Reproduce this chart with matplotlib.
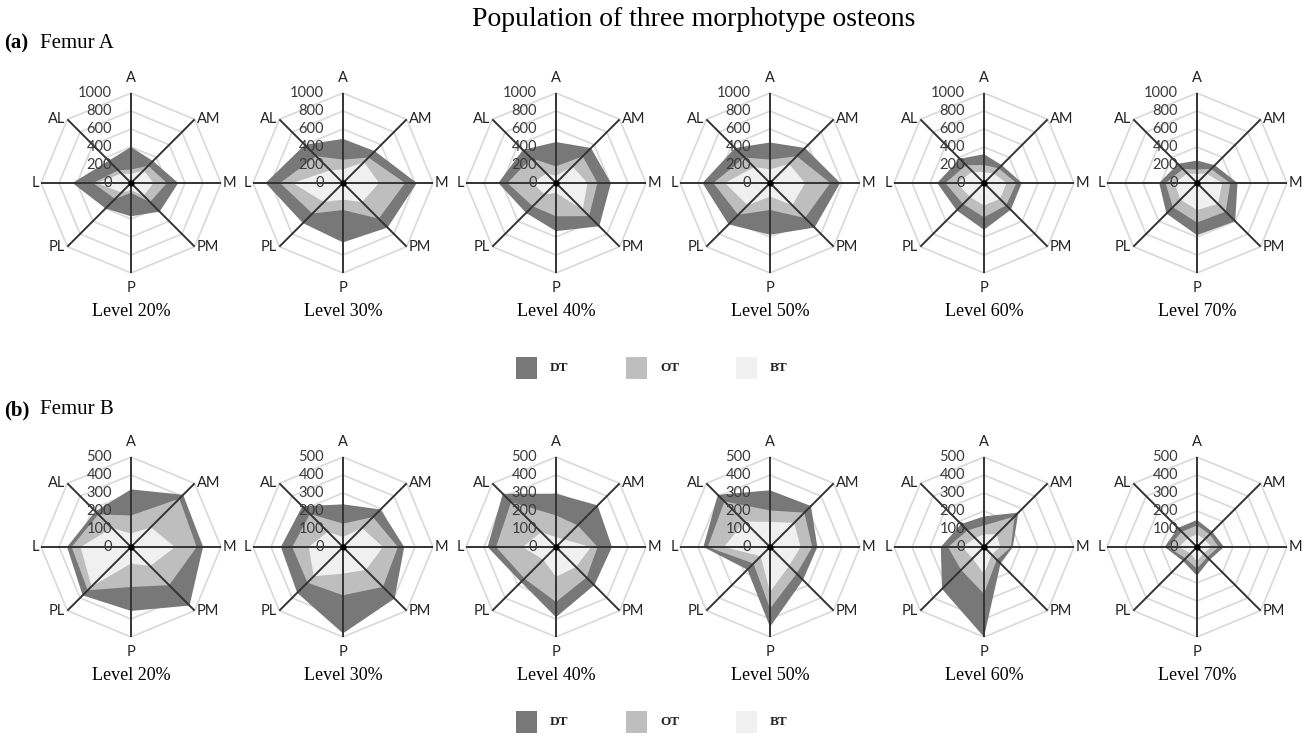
import numpy as np
import matplotlib
matplotlib.use("Agg")
import matplotlib.pyplot as plt
from matplotlib.patches import Rectangle

# ---------------------------------------------------------------------------
# Data: osteon counts per anatomical direction, three morphotypes (DT, OT, BT)
# ---------------------------------------------------------------------------
directions = ["A", "AM", "M", "PM", "P", "PL", "L", "AL"]
levels = ["Level 20%", "Level 30%", "Level 40%", "Level 50%", "Level 60%", "Level 70%"]
series_names = ["DT", "OT", "BT"]

femur_a_ticks = [0, 200, 400, 600, 800, 1000]
femur_b_ticks = [0, 100, 200, 300, 400, 500]

# Femur A, one row per level, values in direction order
femur_a_dt = [
    [400, 345, 525, 450, 370, 400, 650, 350],
    [490, 500, 820, 700, 660, 630, 860, 600],
    [455, 550, 610, 680, 535, 470, 640, 520],
    [450, 550, 780, 700, 575, 650, 750, 550],
    [320, 280, 420, 420, 520, 430, 520, 380],
    [250, 280, 450, 600, 580, 480, 420, 300],
]
femur_a_ot = [
    [150, 270, 400, 300, 110, 250, 420, 200],
    [260, 400, 690, 560, 300, 480, 700, 420],
    [185, 420, 460, 520, 370, 365, 540, 390],
    [260, 420, 670, 550, 300, 500, 630, 400],
    [200, 230, 360, 350, 380, 330, 430, 280],
    [150, 220, 370, 450, 440, 380, 350, 220],
]
femur_a_bt = [
    [100, 200, 250, 200, 80, 150, 380, 150],
    [150, 330, 400, 300, 185, 300, 560, 200],
    [80, 260, 350, 420, 110, 180, 260, 150],
    [150, 300, 390, 350, 150, 350, 500, 250],
    [120, 150, 250, 250, 250, 220, 300, 180],
    [100, 150, 280, 330, 300, 260, 250, 150],
]

# Femur B
femur_b_dt = [
    [320, 410, 400, 460, 355, 380, 355, 280],
    [237, 295, 340, 405, 480, 360, 345, 320],
    [296, 327, 311, 300, 390, 275, 380, 418],
    [315, 322, 263, 259, 444, 178, 370, 410],
    [170, 270, 160, 130, 500, 330, 240, 180],
    [150, 120, 150, 100, 160, 110, 180, 150],
]
femur_b_ot = [
    [175, 380, 365, 300, 222, 340, 330, 257],
    [130, 235, 305, 314, 268, 280, 282, 260],
    [176, 170, 231, 240, 305, 248, 333, 353],
    [203, 270, 235, 209, 342, 130, 346, 358],
    [120, 240, 150, 100, 260, 180, 200, 130],
    [120, 100, 120, 80, 120, 90, 160, 120],
]
femur_b_bt = [
    [75, 155, 245, 150, 92, 310, 280, 150],
    [55, 150, 222, 180, 148, 230, 190, 120],
    [55, 60, 194, 157, 166, 100, 185, 117],
    [139, 190, 170, 149, 250, 73, 255, 200],
    [70, 100, 90, 60, 150, 90, 120, 70],
    [70, 60, 80, 50, 80, 50, 100, 70],
]

# ---------------------------------------------------------------------------
# Styling
# ---------------------------------------------------------------------------
COLORS = {"DT": "#787878", "OT": "#bebebe", "BT": "#f0f0f0"}
GRID = "#d9d9d9"
SPOKE = "#333333"
SANS = ["Lato", "DejaVu Sans"]
SERIF = ["Liberation Serif", "DejaVu Serif"]

W, H, DPI = 1316, 736, 100
R_PX = 90          # radius of the outer ring in pixels
BOX = 300          # size of each radar axes in pixels
col_x = [131, 343, 556, 770, 984, 1197]
row_y = [183, 547]  # radar centres, measured from the top

fig = plt.figure(figsize=(W / DPI, H / DPI), dpi=DPI)
fig.patch.set_facecolor("white")


def px_to_fig(x, y_top):
    return x / W, 1 - y_top / H


def radar(cx, cy, ticks, dt, ot, bt, level):
    vmax = ticks[-1]
    x0, y0 = px_to_fig(cx - BOX / 2, cy + BOX / 2)
    ax = fig.add_axes([x0, y0, BOX / W, BOX / H])
    lim = vmax * (BOX / 2) / R_PX
    ax.set_xlim(-lim, lim)
    ax.set_ylim(-lim, lim)
    ax.axis("off")
    k = vmax / R_PX  # data units per pixel

    ang = np.arange(len(directions)) * 2 * np.pi / len(directions)
    sx, sy = np.sin(ang), np.cos(ang)

    # octagonal grid rings
    for t in ticks[1:]:
        ax.plot(np.append(t * sx, t * sx[0]), np.append(t * sy, t * sy[0]),
                color=GRID, lw=1.2, zorder=1)

    # filled series, drawn in order so lighter ones sit on top
    for name, vals in zip(series_names, (dt, ot, bt)):
        v = np.asarray(vals, dtype=float)
        ax.fill(v * sx, v * sy, color=COLORS[name], lw=0, zorder=2)

    # spokes
    for i in range(len(directions)):
        ax.plot([0, vmax * sx[i]], [0, vmax * sy[i]], color=SPOKE, lw=1.4,
                zorder=3, solid_capstyle="butt")
    ax.plot([0], [0], "o", color="black", ms=3.5, zorder=4)

    # value labels along the vertical spoke
    for t in ticks:
        ax.text(-19 * k, t, str(t), ha="right", va="center", fontsize=10.5,
                color="#3a3a3a", family=SANS, zorder=5)

    # direction labels
    for i, name in enumerate(directions):
        ex, ey = vmax * sx[i], vmax * sy[i]
        kw = dict(fontsize=10.5, color="#222222", family=SANS, va="center")
        if name == "A":
            ax.text(0, ey + 15 * k, name, ha="center", **kw)
        elif name == "P":
            ax.text(0, ey - 15 * k, name, ha="center", **kw)
        elif sx[i] > 0:
            ax.text(ex + 2 * k, ey, name, ha="left", **kw)
        else:
            ax.text(ex - 2 * k, ey, name, ha="right", **kw)

    fig.text(*px_to_fig(cx, cy + 129), level, ha="center", va="center",
             fontsize=13, family=SERIF, color="black")


def legend_row(y_top):
    xs = [516, 626, 736]
    for name, x in zip(series_names, xs):
        fx, fy = px_to_fig(x, y_top + 11)
        fig.add_artist(Rectangle((fx, fy), 21 / W, 22 / H,
                                 transform=fig.transFigure,
                                 facecolor=COLORS[name], edgecolor="none"))
        fig.text(*px_to_fig(x + 34, y_top), name, ha="left", va="center",
                 fontsize=9.5, family=SERIF, weight="bold", color="#222222")


for r, (ticks, dts, ots, bts) in enumerate([
        (femur_a_ticks, femur_a_dt, femur_a_ot, femur_a_bt),
        (femur_b_ticks, femur_b_dt, femur_b_ot, femur_b_bt)]):
    for c in range(len(levels)):
        radar(col_x[c], row_y[r], ticks, dts[c], ots[c], bts[c], levels[c])

legend_row(368)
legend_row(722)

fig.text(*px_to_fig(694, 20), "Population of three morphotype osteons",
         ha="center", va="center", fontsize=20, family=SERIF)
for label, femur, y in (("(a)", "Femur A", 43), ("(b)", "Femur B", 410)):
    fig.text(*px_to_fig(4, y), label, ha="left", va="center", fontsize=15,
             family=SERIF, weight="bold")
    fig.text(*px_to_fig(40, y), femur, ha="left", va="center", fontsize=15,
             family=SERIF)

fig.savefig("out.png", dpi=DPI, facecolor="white")
